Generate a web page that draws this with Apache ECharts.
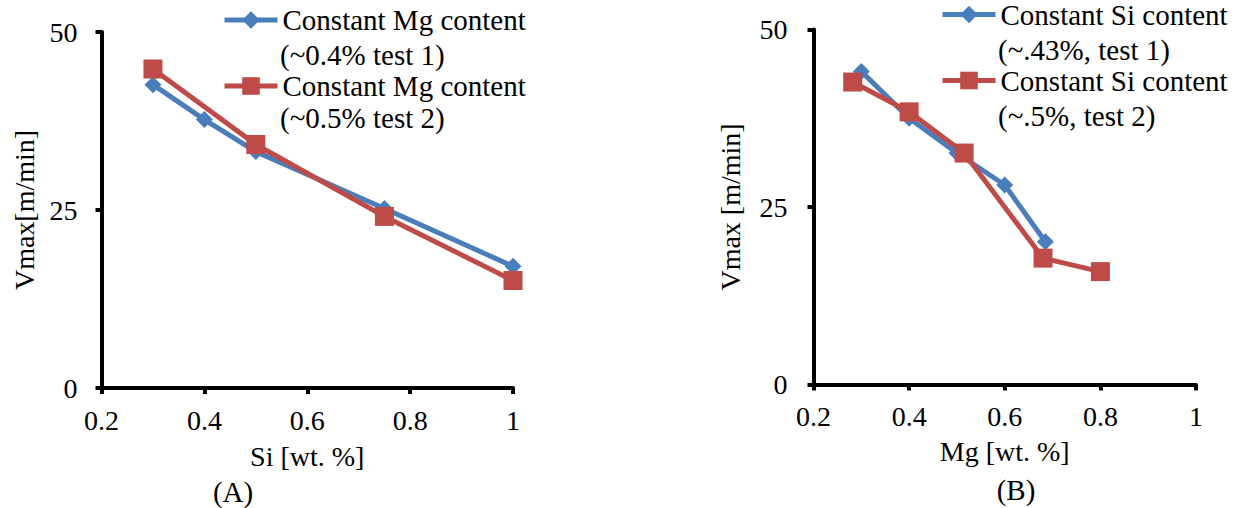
<!DOCTYPE html>
<html>
<head>
    <meta charset="utf-8">
    <title>Vmax vs Si / Mg</title>
    <script src="https://cdn.jsdelivr.net/npm/echarts@6/dist/echarts.min.js"></script>
    <style>
        html, body { margin: 0; padding: 0; background: #fff; }
        #main { width: 1257px; height: 508px; }
    </style>
</head>
<body>
    <div id="main"></div>
    <script type="text/javascript">
        // (A) Si varied, Mg constant
        var siTest1 = [0.3, 0.4, 0.5, 0.75, 1];
        var vmaxSiTest1 = [42.6, 37.7, 33.2, 25.2, 17.1];
        var siTest2 = [0.3, 0.5, 0.75, 1];
        var vmaxSiTest2 = [44.8, 34.2, 24.1, 15.1];
        // (B) Mg varied, Si constant
        var mgTest1 = [0.3, 0.4, 0.5, 0.6, 0.685];
        var vmaxMgTest1 = [44.1, 37.5, 32.6, 28.1, 20.1];
        var mgTest2 = [0.282, 0.4, 0.515, 0.68, 0.8];
        var vmaxMgTest2 = [42.6, 38.4, 32.6, 17.8, 15.9];

        var namesA = ['Constant Mg content (~0.4% test 1)', 'Constant Mg content (~0.5% test 2)'];
        var namesB = ['Constant Si content (~.43%, test 1)', 'Constant Si content (~.5%, test 2)'];
        var xTicks = [0.2, 1, 0.2];   // min, max, interval
        var yTicks = [0, 50, 25];

        var BLUE = '#4A7EBB';
        var RED = '#BE4B48';
        var FONT = "'Liberation Serif', 'Times New Roman', serif";

        function zip(xs, ys) {
            return xs.map(function (x, i) { return [x, ys[i]]; });
        }

        function xAxis(idx, name, gap) {
            return {
                type: 'value', gridIndex: idx,
                min: xTicks[0], max: xTicks[1], interval: xTicks[2],
                name: name, nameLocation: 'middle', nameGap: gap,
                nameTextStyle: { fontFamily: FONT, fontSize: 28, color: '#000' },
                axisLine: { show: true, lineStyle: { color: '#000', width: 4 } },
                axisTick: { show: true, length: 6, lineStyle: { color: '#000', width: 4 } },
                axisLabel: { fontFamily: FONT, fontSize: 28, color: '#000', margin: 18 },
                splitLine: { show: false }
            };
        }

        function yAxis(idx, name, gap, margin) {
            return {
                type: 'value', gridIndex: idx,
                min: yTicks[0], max: yTicks[1], interval: yTicks[2],
                name: name, nameLocation: 'middle', nameGap: gap,
                nameTextStyle: { fontFamily: FONT, fontSize: 28, color: '#000' },
                axisLine: { show: true, lineStyle: { color: '#000', width: 4 } },
                axisTick: { show: true, length: 6, lineStyle: { color: '#000', width: 4 } },
                axisLabel: { fontFamily: FONT, fontSize: 28, color: '#000', margin: margin },
                splitLine: { show: false }
            };
        }

        function line(name, idx, data, color, symbol, size) {
            return {
                name: name, type: 'line',
                xAxisIndex: idx, yAxisIndex: idx,
                data: data,
                symbol: symbol, symbolSize: size,
                showAllSymbol: true,
                lineStyle: { color: color, width: 5 },
                itemStyle: { color: color },
                animation: false
            };
        }

        function legend(names, left, top) {
            return {
                data: names, orient: 'vertical',
                left: left, top: top, padding: 0,
                itemWidth: 53, itemHeight: 22, itemGap: 34,
                selectedMode: false,
                lineStyle: { width: 5 },
                formatter: function (n) { return n.split(' (')[0]; },
                textStyle: { fontFamily: FONT, fontSize: 29, color: '#000', lineHeight: 32 }
            };
        }

        function note(text, x, y, align) {
            return {
                type: 'text', x: x, y: y,
                style: {
                    text: text, fill: '#000', font: '29px ' + FONT,
                    textAlign: align || 'left', textVerticalAlign: 'middle'
                }
            };
        }

        var myChart = echarts.init(document.getElementById('main'), null, { renderer: 'svg' });
        myChart.setOption({
            animation: false,
            grid: [
                { left: 101.5, top: 32, width: 411.5, height: 356 },
                { left: 813.5, top: 29.5, width: 382.5, height: 355 }
            ],
            xAxis: [xAxis(0, 'Si [wt. %]', 54), xAxis(1, 'Mg [wt. %]', 53)],
            yAxis: [yAxis(0, 'Vmax[m/min]', 63, 24), yAxis(1, 'Vmax [m/min]', 69, 26)],
            legend: [legend(namesA, 222, 4), legend(namesB, 940, -1.5)],
            series: [
                line(namesA[0], 0, zip(siTest1, vmaxSiTest1), BLUE, 'diamond', 17),
                line(namesA[1], 0, zip(siTest2, vmaxSiTest2), RED, 'rect', 19),
                line(namesB[0], 1, zip(mgTest1, vmaxMgTest1), BLUE, 'diamond', 17),
                line(namesB[1], 1, zip(mgTest2, vmaxMgTest2), RED, 'rect', 19)
            ],
            graphic: [
                note('(~0.4% test 1)', 280, 55),
                note('(~0.5% test 2)', 280, 118),
                note('(~.43%, test 1)', 998, 50),
                note('(~.5%, test 2)', 998, 116),
                note('(A)', 233, 492, 'center'),
                note('(B)', 1016, 490, 'center')
            ]
        });
    </script>
</body>
</html>
